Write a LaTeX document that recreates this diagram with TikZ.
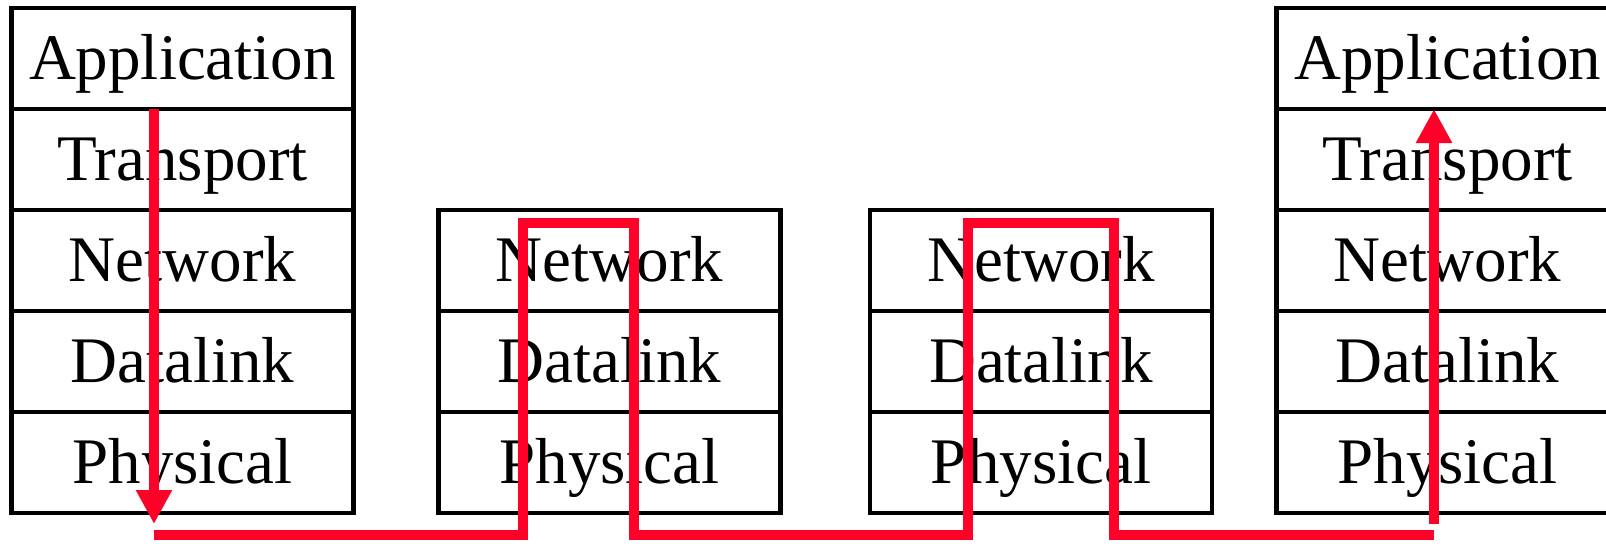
\documentclass[tikz,border=0pt]{standalone}
\usepackage{fontspec}
\setmainfont{Liberation Serif}
\usetikzlibrary{positioning,arrows.meta}
\definecolor{netred}{RGB}{255,0,40}

\begin{document}
\begin{tikzpicture}[x=0.5pt,y=-0.5pt,
  layer/.style = {draw, line width=2.2pt, outer sep=0pt, inner sep=0pt,
    minimum width=171pt, minimum height=50.5pt,
    font=\fontsize{32.5}{38}\selectfont, text height=25pt, text depth=4pt},
  route/.style = {draw=netred, line width=5pt}]
\useasboundingbox (0,0) rectangle (1606,543);
\clip (0,0) rectangle (1606,543);
% source host
\node[layer] (a-app) at (182.5,58.5) {Application};
\node[layer] (a-tra) [below=0pt of a-app] {Transport};
\node[layer] (a-net) [below=0pt of a-tra] {Network};
\node[layer] (a-dl) [below=0pt of a-net] {Datalink};
\node[layer] (a-phy) [below=0pt of a-dl] {Physical};
% first router
\node[layer] (r1-net) at (609.5,260.5) {Network};
\node[layer] (r1-dl) [below=0pt of r1-net] {Datalink};
\node[layer] (r1-phy) [below=0pt of r1-dl] {Physical};
% second router
\node[layer] (r2-net) at (1041,260.5) {Network};
\node[layer] (r2-dl) [below=0pt of r2-net] {Datalink};
\node[layer] (r2-phy) [below=0pt of r2-dl] {Physical};
% destination host
\node[layer] (b-app) at (1447.5,58.5) {Application};
\node[layer] (b-tra) [below=0pt of b-app] {Transport};
\node[layer] (b-net) [below=0pt of b-tra] {Network};
\node[layer] (b-dl) [below=0pt of b-net] {Datalink};
\node[layer] (b-phy) [below=0pt of b-dl] {Physical};
% path of the data
\coordinate (down-top) at (154,109);
\coordinate (down-end) at (154,524);
\coordinate (wire-start) at (154,535);
\coordinate (wire-end) at (1434,535);
\coordinate (up-start) at (1434,524);
\coordinate (up-end) at (1434,109);
\draw[route,-{Triangle[length=17pt,width=17pt]}] (down-top) -- (down-end);
\draw[route] (wire-start) -| (523,223) -| (634,535) -| (968,223) -| (1114,535) -- (wire-end);
\draw[route,-{Triangle[length=17pt,width=17pt]}] (up-start) -- (up-end);
\end{tikzpicture}
\end{document}
